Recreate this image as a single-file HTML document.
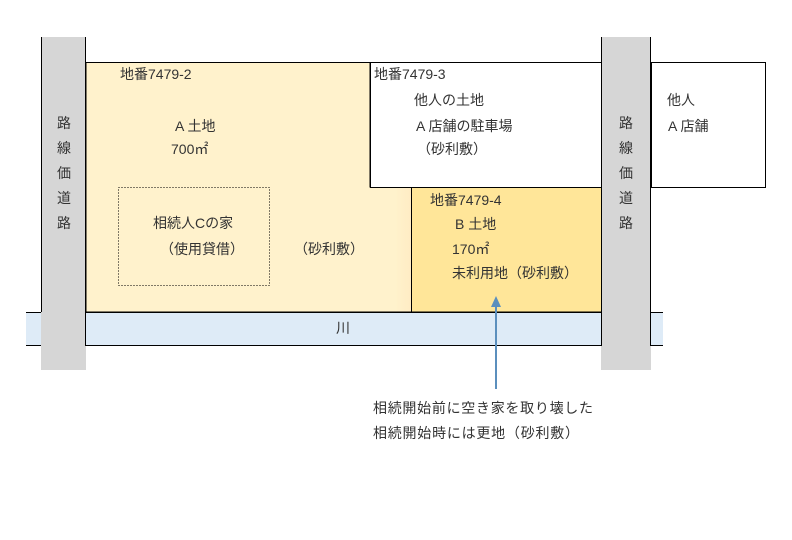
<!DOCTYPE html>
<html><head><meta charset="utf-8"><style>
html,body{margin:0;padding:0;background:#fff;}
svg text{font-family:"Liberation Sans","Noto Sans CJK JP",sans-serif;font-size:14px;fill:#333;}
</style></head><body>
<svg width="792" height="535" viewBox="0 0 792 535" xmlns="http://www.w3.org/2000/svg">
<defs><linearGradient id="g" gradientUnits="userSpaceOnUse" x1="86" x2="411" y1="0" y2="0"><stop offset="0.95" stop-color="#fff2cc"/><stop offset="1" stop-color="#ffecc4"/></linearGradient></defs>
<rect x="26" y="312" width="637" height="33" fill="#deebf7"/>
<line x1="26" y1="312.5" x2="663" y2="312.5" stroke="#000" stroke-width="1"/>
<line x1="26" y1="345.5" x2="663" y2="345.5" stroke="#000" stroke-width="1"/>
<polygon points="86,62.5 370,62.5 370,187 411.5,187 411.5,312 86,312" fill="url(#g)" stroke="#000" stroke-width="1"/>
<rect x="370.5" y="62.5" width="231" height="125" fill="#fff" stroke="#000" stroke-width="1"/>
<rect x="411.5" y="187.5" width="190" height="124.5" fill="#ffe699" stroke="#000" stroke-width="1"/>
<rect x="651.5" y="62.5" width="114" height="125" fill="#fff" stroke="#000" stroke-width="1"/>
<rect x="41" y="37" width="45" height="333" fill="#d6d6d6"/>
<line x1="41.5" y1="37" x2="41.5" y2="312" stroke="#000"/>
<line x1="85.5" y1="37" x2="85.5" y2="346" stroke="#000"/>
<rect x="601" y="37" width="50" height="333" fill="#d6d6d6"/>
<line x1="601.5" y1="37" x2="601.5" y2="346" stroke="#000"/>
<line x1="650.5" y1="37" x2="650.5" y2="346" stroke="#000"/>
<rect x="118.5" y="187.5" width="151" height="98" fill="none" stroke="#000" stroke-width="1" stroke-dasharray="1,2"/>
<line x1="496" y1="389" x2="496" y2="305" stroke="#5b8fbd" stroke-width="2"/>
<polygon points="496,296 491,307 501,307" fill="#5b8fbd"/>
<text x="120" y="79">地番7479-2</text>
<text x="175" y="131">A 土地</text>
<text x="171" y="154">700㎡</text>
<text x="153" y="228">相続人Cの家</text>
<text x="160" y="254">（使用貸借）</text>
<text x="294" y="254">（砂利敷）</text>
<text x="374" y="79">地番7479-3</text>
<text x="414" y="105">他人の土地</text>
<text x="416" y="131">A 店舗の駐車場</text>
<text x="417" y="154">（砂利敷）</text>
<text x="430" y="205">地番7479-4</text>
<text x="455" y="229">B 土地</text>
<text x="452" y="254">170㎡</text>
<text x="452" y="278">未利用地（砂利敷）</text>
<text x="667" y="105">他人</text>
<text x="668" y="131">A 店舗</text>
<text x="336" y="333">川</text>
<g>
<text x="57" y="128">路</text><text x="57" y="153">線</text><text x="57" y="178">価</text><text x="57" y="203">道</text><text x="57" y="228">路</text>
<text x="619" y="128">路</text><text x="619" y="153">線</text><text x="619" y="178">価</text><text x="619" y="203">道</text><text x="619" y="228">路</text>
</g>
<text x="373" y="413" textLength="220">相続開始前に空き家を取り壊した</text>
<text x="373" y="438" textLength="206">相続開始時には更地（砂利敷）</text>
</svg>
</body></html>
